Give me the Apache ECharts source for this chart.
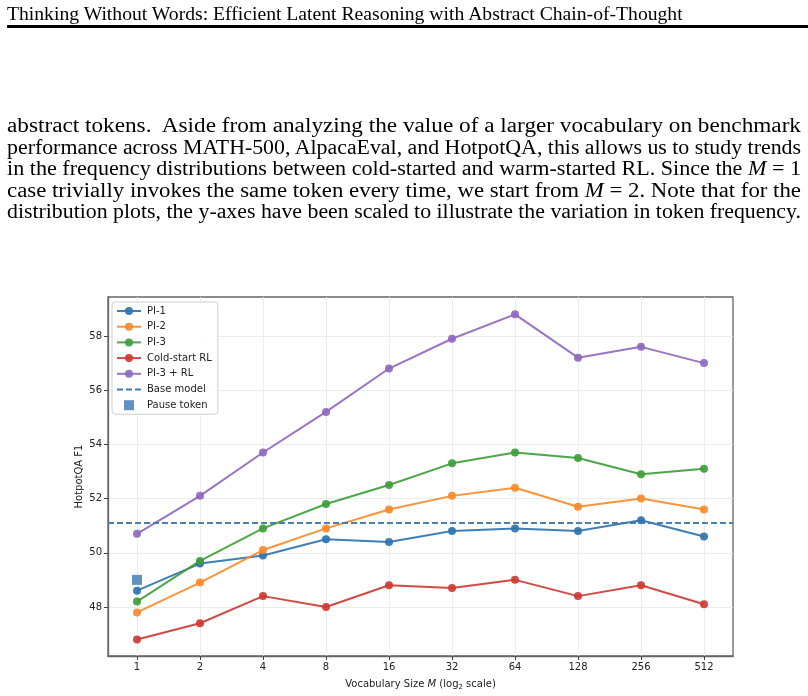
<!DOCTYPE html>
<html>
<head>
<meta charset="utf-8">
<script src="https://cdn.jsdelivr.net/npm/echarts@6/dist/echarts.min.js"></script>
<style>
  html, body { margin: 0; padding: 0; background: #fff; }
  body { width: 808px; height: 696px; position: relative; overflow: hidden; }
  .serif { font-family: "Liberation Serif", "DejaVu Serif", serif; color: #000; position: absolute; white-space: nowrap; }
  #head { left: 7px; top: 2px; font-size: 19px; line-height: 22px; }
  #rule { position: absolute; left: 7px; right: 0; top: 25px; height: 3px; background: #000; }
  .ln { left: 7px; font-size: 20.5px; line-height: 21.5px; transform-origin: 0 0; }
  #chart { position: absolute; left: 0; top: 0; width: 808px; height: 696px; }
</style>
</head>
<body>
<div id="chart"></div>
<div id="head" class="serif">Thinking Without Words: Efficient Latent Reasoning with Abstract Chain-of-Thought</div>
<div id="rule"></div>
<div class="serif ln" style="top:115px">abstract tokens.&nbsp; Aside from analyzing the value of a larger vocabulary on benchmark</div>
<div class="serif ln" style="top:136.5px">performance across MATH-500, AlpacaEval, and HotpotQA, this allows us to study trends</div>
<div class="serif ln" style="top:158px">in the frequency distributions between cold-started and warm-started RL. Since the <i>M</i> = 1</div>
<div class="serif ln" style="top:179.5px">case trivially invokes the same token every time, we start from <i>M</i> = 2. Note that for the</div>
<div class="serif ln" style="top:201px">distribution plots, the y-axes have been scaled to illustrate the variation in token frequency.</div>
<script>
// fit header and paragraph lines to the widths in the reference
(function() {
	var h = document.getElementById('head');
	var w = h.getBoundingClientRect().width;
	h.style.fontSize = (19 * 676 / w) + 'px';
	var lines = document.querySelectorAll('.ln');
	for (var i = 0; i < lines.length; i++) {
		var lw = lines[i].getBoundingClientRect().width;
		lines[i].style.transform = 'scaleX(' + (794 / lw) + ')';
	}
})();

var vocabLabels = ['1', '2', '4', '8', '16', '32', '64', '128', '256', '512'];
var pi1 = [48.6, 49.6, 49.9, 50.5, 50.4, 50.8, 50.9, 50.8, 51.2, 50.6];
var pi2 = [47.8, 48.9, 50.1, 50.9, 51.6, 52.1, 52.4, 51.7, 52.0, 51.6];
var pi3 = [48.2, 49.7, 50.9, 51.8, 52.5, 53.3, 53.7, 53.5, 52.9, 53.1];
var coldStart = [46.8, 47.4, 48.4, 48.0, 48.8, 48.7, 49.0, 48.4, 48.8, 48.1];
var pi3rl = [50.7, 52.1, 53.7, 55.2, 56.8, 57.9, 58.8, 57.2, 57.6, 57.0];
var baseModel = 51.1;
var pauseToken = 49.0;
var yTicks = [48, 50, 52, 54, 56, 58];

var tickIdx = vocabLabels.map(function(l, i) { return i; });

function pairs(arr) {
	return arr.map(function(v, i) { return [i, v]; });
}

function lineSeries(name, arr, color) {
	return {
		name: name,
		type: 'line',
		data: pairs(arr),
		symbol: 'circle',
		symbolSize: 8,
		z: 3,
		itemStyle: { color: color, opacity: 0.92 },
		lineStyle: { color: color, width: 2, opacity: 0.92 }
	};
}

var chart = echarts.init(document.getElementById('chart'));
var option = {
	animation: false,
	textStyle: { fontFamily: 'DejaVu Sans' },
	grid: {
		left: 108, top: 297, width: 625, height: 359,
		show: true, borderColor: '#666', borderWidth: 1.3, backgroundColor: 'transparent'
	},
	legend: {
		orient: 'vertical',
		left: 112, top: 302,
		padding: [4, 6, 4, 4],
		itemWidth: 24, itemHeight: 10, itemGap: 5.7,
		backgroundColor: 'rgba(255,255,255,0.85)',
		borderColor: '#d0d0d0', borderWidth: 1, borderRadius: 3,
		textStyle: { fontSize: 10, color: '#222', fontFamily: 'DejaVu Sans', padding: [0, 0, 0, 1] },
		data: [
			'PI-1', 'PI-2', 'PI-3', 'Cold-start RL', 'PI-3 + RL',
			{ name: 'Base model', itemStyle: { opacity: 0 } },
			{ name: 'Pause token', icon: 'path://M0,0h10v10h-10z' }
		]
	},
	xAxis: {
		type: 'value',
		min: -0.46, max: 9.46,
		name: '{a|Vocabulary Size }{i|M}{a| (log}{s|2}{a| scale)}',
		nameLocation: 'middle', nameGap: 22,
		nameMoveOverlap: false,
		nameTextStyle: {
			rich: {
				a: { fontSize: 10, color: '#222', fontFamily: 'DejaVu Sans' },
				i: { fontSize: 10, color: '#222', fontFamily: 'DejaVu Sans', fontStyle: 'italic' },
				s: { fontSize: 7, color: '#222', fontFamily: 'DejaVu Sans', padding: [6, 0, 0, 0] }
			}
		},
		axisLine: { show: true, onZero: false, lineStyle: { color: '#666', width: 1.3 } },
		axisTick: { show: true, customValues: tickIdx, length: 4, lineStyle: { color: '#444' } },
		axisLabel: {
			customValues: tickIdx, fontSize: 10, color: '#222', margin: 6,
			formatter: function(v) { return vocabLabels[Math.round(v)]; }
		},
		splitLine: { show: true, lineStyle: { color: '#ececec', width: 1 } }
	},
	yAxis: {
		type: 'value',
		min: 46.19, max: 59.44,
		name: 'HotpotQA F1',
		nameLocation: 'middle', nameGap: 24,
		nameMoveOverlap: false,
		nameTextStyle: { fontSize: 10, color: '#222' },
		axisLine: { show: true, onZero: false, lineStyle: { color: '#666', width: 1.3 } },
		axisTick: { show: true, customValues: yTicks, length: 4, lineStyle: { color: '#444' } },
		axisLabel: { customValues: yTicks, fontSize: 10, color: '#222', margin: 6 },
		splitLine: { show: true, lineStyle: { color: '#ececec', width: 1 } }
	},
	series: [
		lineSeries('PI-1', pi1, '#2f74b0'),
		lineSeries('PI-2', pi2, '#f98a2b'),
		lineSeries('PI-3', pi3, '#3e9e3a'),
		lineSeries('Cold-start RL', coldStart, '#cf3a33'),
		lineSeries('PI-3 + RL', pi3rl, '#9068be'),
		{
			name: 'Base model',
			type: 'line',
			data: [],
			symbol: 'none',
			itemStyle: { color: '#4278b2' },
			lineStyle: { color: '#4278b2', width: 1.8, type: [6, 3] },
			markLine: {
				silent: true,
				symbol: 'none',
				label: { show: false },
				lineStyle: { color: '#4278b2', width: 1.8, type: [6, 3], opacity: 0.95 },
				data: [{ yAxis: baseModel }]
			}
		},
		{
			name: 'Pause token',
			type: 'scatter',
			data: [[0, pauseToken]],
			symbol: 'rect',
			symbolSize: 10,
			z: 4,
			itemStyle: { color: '#3a75b0' }
		}
	]
};
chart.setOption(option);
</script>
</body>
</html>
